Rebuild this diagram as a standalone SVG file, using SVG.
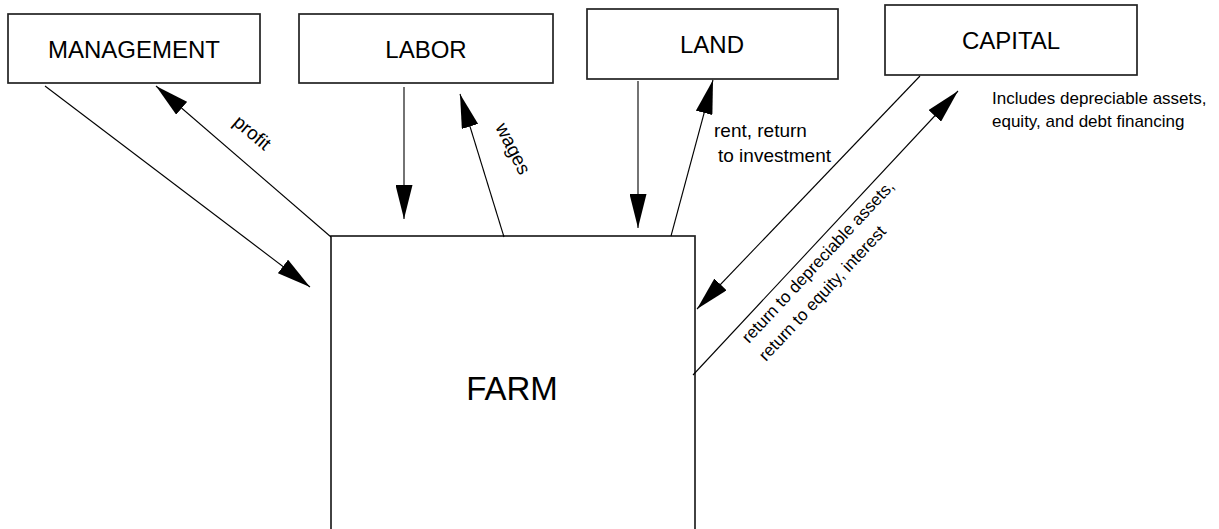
<svg xmlns="http://www.w3.org/2000/svg" width="1219" height="529" viewBox="0 0 1219 529">
<style>
.box{fill:#fff;stroke:#222;stroke-width:1.7}
.t{font-family:"Liberation Sans",Arial,sans-serif;fill:#000}
.n{font-size:24px;text-anchor:middle}
.l{font-size:19px}
.s{font-size:17px}
.c{stroke:#000;stroke-width:1.1;fill:none;marker-end:url(#ah)}
</style>
<defs>
<marker id="ah" viewBox="0 0 34 17" refX="34" refY="8.5" markerWidth="34" markerHeight="17" markerUnits="userSpaceOnUse" orient="auto">
<path d="M0,0 L34,8.5 L0,17 z" fill="#000"/>
</marker>
</defs>
<rect width="1219" height="529" fill="#fff"/>
<g id="management"><rect class="box" x="8" y="14" width="252" height="69"/><text class="t n" x="134" y="58">MANAGEMENT</text></g>
<g id="labor"><rect class="box" x="299" y="14" width="254" height="69"/><text class="t n" x="426" y="58">LABOR</text></g>
<g id="land"><rect class="box" x="587" y="9" width="251" height="70"/><text class="t n" x="712" y="53">LAND</text></g>
<g id="capital"><rect class="box" x="885" y="5" width="252" height="70"/><text class="t n" x="1011" y="49">CAPITAL</text></g>
<g id="capital-note"><text class="t s" x="992" y="104">Includes depreciable assets,</text><text class="t s" x="992" y="127">equity, and debt financing</text></g>
<g id="farm"><rect class="box" x="331" y="236" width="364" height="320"/><text class="t" x="512" y="400" font-size="33" text-anchor="middle">FARM</text></g>
<g id="connectors">
<line class="c" x1="45" y1="86" x2="310" y2="287"/>
<line class="c" x1="331" y1="237" x2="156" y2="86"/>
<line class="c" x1="404" y1="87" x2="404" y2="219"/>
<line class="c" x1="504" y1="237" x2="460" y2="94"/>
<line class="c" x1="638" y1="81" x2="638" y2="228"/>
<line class="c" x1="671" y1="236" x2="713" y2="80"/>
<line class="c" x1="920" y1="76" x2="697" y2="309"/>
<line class="c" x1="693" y1="375" x2="958" y2="91"/>
<text class="t l" transform="translate(232,124) rotate(40)">profit</text>
<text class="t l" transform="translate(495,127) rotate(63)">wages</text>
<text class="t l" x="714" y="137">rent, return</text>
<text class="t l" x="718" y="162">to investment</text>
<text class="t s" transform="translate(749,344) rotate(-47)">return to depreciable assets,</text>
<text class="t s" transform="translate(766,362) rotate(-47)">return to equity, interest</text>
</g>
</svg>
